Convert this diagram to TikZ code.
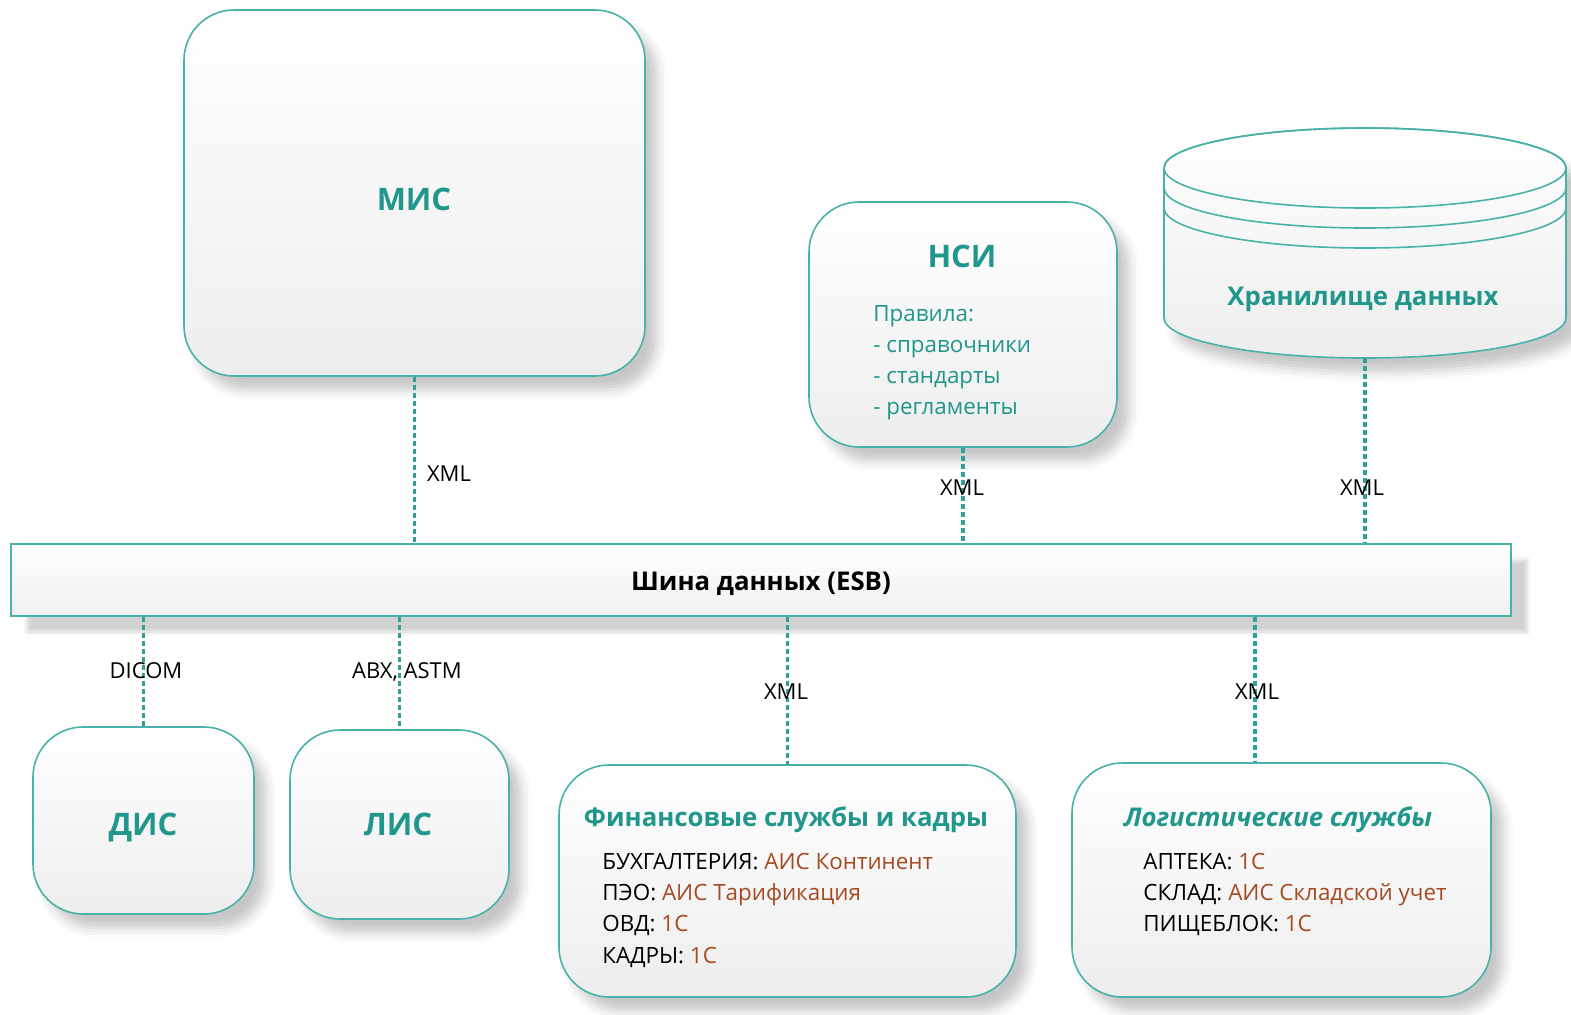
\documentclass[tikz,border=0pt]{standalone}
\usepackage{fontspec}
\setmainfont{Open Sans}
\usetikzlibrary{shadows.blur}
\definecolor{bord}{RGB}{72,178,168}
\definecolor{tealt}{RGB}{32,150,140}
\definecolor{val}{RGB}{165,75,35}
\definecolor{conncol}{RGB}{50,160,150}
\tikzset{
  box/.style={draw=bord, line width=0.8pt, rounded corners=25pt, top color=white, bottom color=black!7,
    blur shadow={shadow xshift=6pt, shadow yshift=-7pt, shadow blur radius=5pt, shadow opacity=22}, inner sep=0pt},
  busbox/.style={draw=bord, line width=0.8pt, top color=white, bottom color=black!6, inner sep=0pt,
    blur shadow={shadow xshift=8pt, shadow yshift=-8pt, shadow blur radius=2pt, shadow opacity=18}},
  conn/.style={draw=conncol, line width=1.7pt, dash pattern=on 2.5pt off 1.5pt},
  bigtitle/.style={text=tealt, anchor=base, inner sep=0pt, font=\bfseries\fontsize{15.5}{18}\selectfont},
  midtitle/.style={text=tealt, anchor=base, inner sep=0pt, font=\bfseries\fontsize{12.9}{15}\selectfont},
  itemtxt/.style={anchor=base west, inner sep=0pt, font=\fontsize{11.2}{15.5}\selectfont},
  lbl/.style={anchor=base, inner sep=0pt, font=\fontsize{11}{13}\selectfont}
}
\begin{document}
\begin{tikzpicture}[x=0.5pt,y=-0.5pt]
\useasboundingbox (0,0) rectangle (1571,1014);

% boxes
\node[box, minimum width=230.5pt, minimum height=183pt] (mis) at (414.5,193) {};
\node[box, minimum width=154pt, minimum height=122.5pt] (nsi) at (963,324.5) {};
\node[busbox, minimum width=750pt, minimum height=36pt] (bus) at (761,580) {};
\node[box, minimum width=110.5pt, minimum height=93.5pt] (dis) at (143.5,820.5) {};
\node[box, minimum width=109.5pt, minimum height=94.5pt] (lis) at (399.5,824.5) {};
\node[box, minimum width=228.5pt, minimum height=116pt] (fin) at (787.5,881) {};
\node[box, minimum width=209.5pt, minimum height=117pt] (log) at (1281.5,880) {};

% cylinder (data warehouse)
\path[draw=bord, line width=0.8pt, top color=white, bottom color=black!7,
  blur shadow={shadow xshift=6pt, shadow yshift=-7pt, shadow blur radius=5pt, shadow opacity=22}]
  (1164,168) -- (1164,318) arc[start angle=180, end angle=360, x radius=100.5pt, y radius=20pt]
  -- (1566,168) arc[start angle=0, end angle=180, x radius=100.5pt, y radius=20pt] -- cycle;
\draw[bord, line width=0.8pt] (1365,168) ellipse[x radius=100.5pt, y radius=20pt];
\draw[bord, line width=0.8pt] (1164,168) -- (1164,188) arc[start angle=180, end angle=360, x radius=100.5pt, y radius=20pt] -- (1566,168);
\draw[bord, line width=0.8pt] (1164,188) -- (1164,208) arc[start angle=180, end angle=360, x radius=100.5pt, y radius=20pt] -- (1566,188);
\coordinate (dwb) at (1365,358);

% titles
\node[bigtitle] (tmis) at (414,210) {МИС};
\node[bigtitle] (tnsi) at (962,267) {НСИ};
\node[bigtitle] (tdis) at (143,835) {ДИС};
\node[bigtitle] (tlis) at (398,835) {ЛИС};
\node[midtitle] (tdw) at (1363,305) {Хранилище данных};
\node[midtitle, text=black] (tbus) at (761,590) {Шина данных (ESB)};
\node[midtitle] (tfin) at (786,826) {Финансовые службы и кадры};
\node[midtitle, font=\bfseries\itshape\fontsize{12.9}{15}\selectfont] (tlog) at (1278,826) {Логистические службы};

% NSI rules
\node[itemtxt, text=tealt] (n1) at (873,321) {Правила:};
\node[itemtxt, text=tealt] (n2) at (873,352) {- справочники};
\node[itemtxt, text=tealt] (n3) at (873,383) {- стандарты};
\node[itemtxt, text=tealt] (n4) at (873,414) {- регламенты};

% finance items
\node[itemtxt] (f1) at (602,869) {БУХГАЛТЕРИЯ: \textcolor{val}{АИС Континент}};
\node[itemtxt] (f2) at (602,900) {ПЭО: \textcolor{val}{АИС Тарификация}};
\node[itemtxt] (f3) at (602,931) {ОВД: \textcolor{val}{1С}};
\node[itemtxt] (f4) at (602,963) {КАДРЫ: \textcolor{val}{1С}};

% logistics items
\node[itemtxt] (l1) at (1143,869) {АПТЕКА: \textcolor{val}{1С}};
\node[itemtxt] (l2) at (1143,900) {СКЛАД: \textcolor{val}{АИС Складской учет}};
\node[itemtxt] (l3) at (1143,931) {ПИЩЕБЛОК: \textcolor{val}{1С}};

% connectors
\coordinate (lx) at (1255,0);
\draw[conn] (mis.south) -- (mis.south |- bus.north);
\draw[conn] (nsi.south) -- (nsi.south |- bus.north);
\draw[conn] (dwb) -- (dwb |- bus.north);
\draw[conn] (bus.south -| dis.north) -- (dis.north);
\draw[conn] (bus.south -| lis.north) -- (lis.north);
\draw[conn] (bus.south -| fin.north) -- (fin.north);
\draw[conn] (bus.south -| lx) -- (log.north -| lx);

% connector labels
\node[lbl] (x1) at (449,481) {XML};
\node[lbl] (x2) at (962,495) {XML};
\node[lbl] (x3) at (1362,495) {XML};
\node[lbl] (x4) at (146,678) {DICOM};
\node[lbl] (x5) at (407,678) {ABX, ASTM};
\node[lbl] (x6) at (786,699) {XML};
\node[lbl] (x7) at (1257,699) {XML};
\end{tikzpicture}
\end{document}
